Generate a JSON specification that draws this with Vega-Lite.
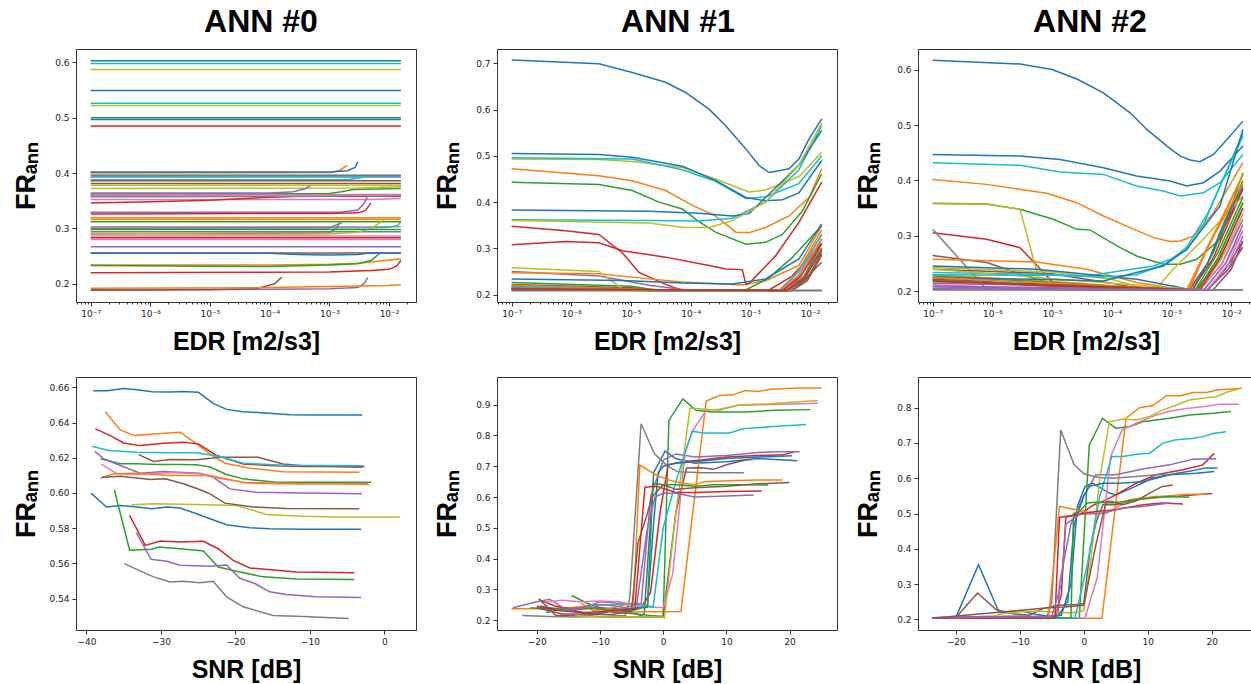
{
"$schema": "https://vega.github.io/schema/vega-lite/v6.json",
"padding": {"left": 11, "top": 5, "right": 0, "bottom": 0},
"config": {
 "view": {"stroke": "#333", "strokeWidth": 1},
 "axis": {"grid": false, "domain": false, "tickColor": "#333", "tickSize": 4, "labelFont": "DejaVu Sans", "labelFontSize": 9, "labelColor": "#222", "titleFont": "Liberation Sans", "titleFontWeight": "bold", "titleColor": "#000"},
 "axisX": {"titleFontSize": 25, "titlePadding": 11, "labelPadding": 3},
 "axisY": {"titleFontSize": 27, "titlePadding": 6, "labelPadding": 3, "minExtent": 30, "maxExtent": 30},
 "title": {"font": "Liberation Sans", "fontSize": 32, "fontWeight": "bold", "color": "#000", "anchor": "middle", "offset": 10},
 "line": {"strokeWidth": 1.5}
},
"datasets": {
"p1": [
{"s":0,"x":1e-7,"y":0.603},{"s":0,"x":0.0158,"y":0.603},
{"s":1,"x":1e-7,"y":0.400},{"s":1,"x":1.1e-3,"y":0.401},{"s":1,"x":1.5e-3,"y":0.405},{"s":1,"x":2e-3,"y":0.414},
{"s":2,"x":1e-7,"y":0.500},{"s":2,"x":0.0158,"y":0.500},
{"s":3,"x":1e-7,"y":0.485},{"s":3,"x":0.0158,"y":0.485},
{"s":4,"x":1e-7,"y":0.393},{"s":4,"x":0.0158,"y":0.393},
{"s":5,"x":1e-7,"y":0.381},{"s":5,"x":0.0158,"y":0.381},
{"s":6,"x":1e-7,"y":0.352},{"s":6,"x":5e-3,"y":0.352},{"s":6,"x":0.0158,"y":0.354},
{"s":7,"x":1e-7,"y":0.294},{"s":7,"x":0.0158,"y":0.294},
{"s":8,"x":1e-7,"y":0.587},{"s":8,"x":0.0158,"y":0.587},
{"s":9,"x":1e-7,"y":0.5976},{"s":9,"x":0.0158,"y":0.5976},
{"s":10,"x":1e-7,"y":0.549},{"s":10,"x":0.0158,"y":0.549},
{"s":11,"x":1e-7,"y":0.316},{"s":11,"x":0.0158,"y":0.316},
{"s":12,"x":1e-7,"y":0.362},{"s":12,"x":1e-3,"y":0.363},{"s":12,"x":1.6e-3,"y":0.366},{"s":12,"x":2.5e-3,"y":0.37},{"s":12,"x":0.0158,"y":0.372},
{"s":13,"x":1e-7,"y":0.346},{"s":13,"x":1e-6,"y":0.348},{"s":13,"x":1e-5,"y":0.351},{"s":13,"x":1e-4,"y":0.356},{"s":13,"x":3e-4,"y":0.358},{"s":13,"x":0.0158,"y":0.358},
{"s":14,"x":1e-7,"y":0.329},{"s":14,"x":1.5e-3,"y":0.329},{"s":14,"x":3e-3,"y":0.333},{"s":14,"x":3.8e-3,"y":0.345},{"s":14,"x":4.3e-3,"y":0.356},
{"s":15,"x":1e-7,"y":0.2555},{"s":15,"x":0.0158,"y":0.2555},
{"s":16,"x":1e-7,"y":0.280},{"s":16,"x":0.0158,"y":0.280},
{"s":17,"x":1e-7,"y":0.357},{"s":17,"x":1e-3,"y":0.358},{"s":17,"x":3e-3,"y":0.36},{"s":17,"x":5e-3,"y":0.358},{"s":17,"x":0.0158,"y":0.36},
{"s":18,"x":1e-7,"y":0.522},{"s":18,"x":0.0158,"y":0.522},
{"s":19,"x":1e-7,"y":0.526},{"s":19,"x":0.0158,"y":0.526},
{"s":20,"x":1e-7,"y":0.4965},{"s":20,"x":0.0158,"y":0.4965},
{"s":21,"x":1e-7,"y":0.234},{"s":21,"x":1e-4,"y":0.234},{"s":21,"x":1e-3,"y":0.235},{"s":21,"x":3e-3,"y":0.237},{"s":21,"x":6e-3,"y":0.240},{"s":21,"x":0.0158,"y":0.245},
{"s":22,"x":1e-7,"y":0.233},{"s":22,"x":1e-4,"y":0.231},{"s":22,"x":1e-3,"y":0.234},{"s":22,"x":3e-3,"y":0.236},{"s":22,"x":5e-3,"y":0.242},{"s":22,"x":7e-3,"y":0.255},
{"s":23,"x":1e-7,"y":0.220},{"s":23,"x":1e-3,"y":0.221},{"s":23,"x":5e-3,"y":0.224},{"s":23,"x":0.01,"y":0.226},{"s":23,"x":0.0135,"y":0.232},{"s":23,"x":0.0158,"y":0.242},
{"s":24,"x":1e-7,"y":0.189},{"s":24,"x":1e-4,"y":0.190},{"s":24,"x":1e-3,"y":0.191},{"s":24,"x":3e-3,"y":0.193},{"s":24,"x":3.8e-3,"y":0.200},{"s":24,"x":4.4e-3,"y":0.211},
{"s":25,"x":1e-7,"y":0.188},{"s":25,"x":1e-5,"y":0.189},{"s":25,"x":6e-5,"y":0.191},{"s":25,"x":1.2e-4,"y":0.200},{"s":25,"x":1.6e-4,"y":0.212},
{"s":26,"x":1e-7,"y":0.303},{"s":26,"x":0.0158,"y":0.303},
{"s":27,"x":1e-7,"y":0.290},{"s":27,"x":1e-3,"y":0.292},{"s":27,"x":1.3e-3,"y":0.300},{"s":27,"x":1.5e-3,"y":0.31},
{"s":28,"x":1e-7,"y":0.372},{"s":28,"x":3e-3,"y":0.373},{"s":28,"x":0.0158,"y":0.375},
{"s":29,"x":1e-7,"y":0.300},{"s":29,"x":5e-3,"y":0.301},{"s":29,"x":0.01,"y":0.302},{"s":29,"x":0.014,"y":0.305},{"s":29,"x":0.0158,"y":0.312},
{"s":30,"x":1e-7,"y":0.402},{"s":30,"x":1e-3,"y":0.402},{"s":30,"x":2e-3,"y":0.404},{"s":30,"x":2.7e-3,"y":0.41},{"s":30,"x":3e-3,"y":0.42},
{"s":31,"x":1e-7,"y":0.192},{"s":31,"x":1e-4,"y":0.193},{"s":31,"x":1e-3,"y":0.195},{"s":31,"x":0.01,"y":0.197},{"s":31,"x":0.0158,"y":0.198},
{"s":32,"x":1e-7,"y":0.312},{"s":32,"x":0.0158,"y":0.312},
{"s":33,"x":1e-7,"y":0.326},{"s":33,"x":1e-3,"y":0.327},{"s":33,"x":3e-3,"y":0.328},{"s":33,"x":4e-3,"y":0.332},{"s":33,"x":5e-3,"y":0.346},
{"s":34,"x":1e-7,"y":0.267},{"s":34,"x":0.0158,"y":0.267},
{"s":35,"x":1e-7,"y":0.396},{"s":35,"x":0.0158,"y":0.396},
{"s":36,"x":1e-7,"y":0.286},{"s":36,"x":0.0158,"y":0.286},
{"s":37,"x":1e-7,"y":0.360},{"s":37,"x":0.0158,"y":0.361},
{"s":38,"x":1e-7,"y":0.291},{"s":38,"x":1e-4,"y":0.289},{"s":38,"x":1e-3,"y":0.290},{"s":38,"x":3e-3,"y":0.293},{"s":38,"x":5e-3,"y":0.300},{"s":38,"x":7e-3,"y":0.31},{"s":38,"x":8e-3,"y":0.315},
{"s":39,"x":1e-7,"y":0.388},{"s":39,"x":2e-3,"y":0.388},{"s":39,"x":3e-3,"y":0.391},{"s":39,"x":3.5e-3,"y":0.392},
{"s":40,"x":1e-7,"y":0.255},{"s":40,"x":1e-4,"y":0.255},{"s":40,"x":3e-4,"y":0.253},{"s":40,"x":1e-3,"y":0.252},{"s":40,"x":3e-3,"y":0.253},{"s":40,"x":5e-3,"y":0.256},{"s":40,"x":0.0158,"y":0.255},
{"s":41,"x":1e-7,"y":0.319},{"s":41,"x":0.0158,"y":0.319},
{"s":42,"x":1e-7,"y":0.298},{"s":42,"x":0.0158,"y":0.298},
{"s":43,"x":1e-7,"y":0.283},{"s":43,"x":0.0158,"y":0.283},
{"s":44,"x":1e-7,"y":0.364},{"s":44,"x":1e-4,"y":0.364},{"s":44,"x":2.5e-4,"y":0.366},{"s":44,"x":4e-4,"y":0.372},{"s":44,"x":5e-4,"y":0.378},
{"s":45,"x":1e-7,"y":0.386},{"s":45,"x":0.0158,"y":0.386},
{"s":46,"x":1e-7,"y":0.3605},{"s":46,"x":0.0158,"y":0.3605},
{"s":47,"x":1e-7,"y":0.300},{"s":47,"x":1e-3,"y":0.301},{"s":47,"x":1.6e-3,"y":0.31},
{"s":48,"x":1e-7,"y":0.378},{"s":48,"x":0.0158,"y":0.378},
{"s":49,"x":1e-7,"y":0.394},{"s":49,"x":0.0158,"y":0.394}
],
"p2": [
{"s":0,"x":1e-7,"y":0.707},{"s":0,"x":2.9e-6,"y":0.699},{"s":0,"x":1.05e-5,"y":0.680},{"s":0,"x":3.8e-5,"y":0.659},{"s":0,"x":8.2e-5,"y":0.637},{"s":0,"x":2.03e-4,"y":0.601},{"s":0,"x":3.86e-4,"y":0.565},{"s":0,"x":8.4e-4,"y":0.515},{"s":0,"x":1.4e-3,"y":0.479},{"s":0,"x":2.06e-3,"y":0.464},{"s":0,"x":3e-3,"y":0.468},{"s":0,"x":4.45e-3,"y":0.472},{"s":0,"x":6.5e-3,"y":0.493},{"s":0,"x":9.6e-3,"y":0.536},{"s":0,"x":0.0157,"y":0.580},
{"s":1,"x":1e-7,"y":0.472},{"s":1,"x":2.9e-6,"y":0.457},{"s":1,"x":1.05e-5,"y":0.446},{"s":1,"x":3.8e-5,"y":0.425},{"s":1,"x":1.07e-4,"y":0.393},{"s":1,"x":2.6e-4,"y":0.370},{"s":1,"x":5.7e-4,"y":0.335},{"s":1,"x":9.5e-4,"y":0.334},{"s":1,"x":1.8e-3,"y":0.345},{"s":1,"x":4.45e-3,"y":0.37},{"s":1,"x":9.6e-3,"y":0.41},{"s":1,"x":0.0157,"y":0.472},
{"s":2,"x":1e-7,"y":0.443},{"s":2,"x":2.9e-6,"y":0.438},{"s":2,"x":1.05e-5,"y":0.425},{"s":2,"x":2.95e-5,"y":0.40},{"s":2,"x":7.25e-5,"y":0.385},{"s":2,"x":1.38e-4,"y":0.358},{"s":2,"x":2.6e-4,"y":0.335},{"s":2,"x":8.4e-4,"y":0.309},{"s":2,"x":1.8e-3,"y":0.313},{"s":2,"x":3.44e-3,"y":0.33},{"s":2,"x":7.4e-3,"y":0.38},{"s":2,"x":0.0157,"y":0.461},
{"s":3,"x":1e-7,"y":0.348},{"s":3,"x":8e-7,"y":0.338},{"s":3,"x":2.9e-6,"y":0.33},{"s":3,"x":7.2e-6,"y":0.29},{"s":3,"x":1.36e-5,"y":0.248},{"s":3,"x":3.8e-5,"y":0.222},{"s":3,"x":7.25e-5,"y":0.209},{"s":3,"x":2e-3,"y":0.209},{"s":3,"x":5e-3,"y":0.24},{"s":3,"x":0.0157,"y":0.31},
{"s":4,"x":1e-7,"y":0.250},{"s":4,"x":2.9e-6,"y":0.24},{"s":4,"x":2e-5,"y":0.22},{"s":4,"x":7.25e-5,"y":0.211},{"s":4,"x":1e-4,"y":0.209},{"s":4,"x":3e-3,"y":0.209},{"s":4,"x":6e-3,"y":0.23},{"s":4,"x":0.0157,"y":0.32},
{"s":5,"x":1e-7,"y":0.222},{"s":5,"x":1e-5,"y":0.215},{"s":5,"x":3e-5,"y":0.209},{"s":5,"x":4e-3,"y":0.209},{"s":5,"x":7e-3,"y":0.225},{"s":5,"x":0.0157,"y":0.27},
{"s":6,"x":1e-7,"y":0.213},{"s":6,"x":1e-5,"y":0.211},{"s":6,"x":2e-5,"y":0.209},{"s":6,"x":3e-3,"y":0.209},{"s":6,"x":6e-3,"y":0.235},{"s":6,"x":0.0157,"y":0.33},
{"s":7,"x":1e-7,"y":0.209},{"s":7,"x":0.0157,"y":0.209},
{"s":8,"x":1e-7,"y":0.493},{"s":8,"x":2.9e-6,"y":0.492},{"s":8,"x":1.05e-5,"y":0.488},{"s":8,"x":7.25e-5,"y":0.475},{"s":8,"x":2.6e-4,"y":0.45},{"s":8,"x":9.5e-4,"y":0.422},{"s":8,"x":1.8e-3,"y":0.426},{"s":8,"x":6.5e-3,"y":0.455},{"s":8,"x":0.0157,"y":0.508},
{"s":9,"x":1e-7,"y":0.496},{"s":9,"x":1.05e-5,"y":0.493},{"s":9,"x":7.25e-5,"y":0.47},{"s":9,"x":2.6e-4,"y":0.445},{"s":9,"x":8.4e-4,"y":0.408},{"s":9,"x":1.8e-3,"y":0.411},{"s":9,"x":6.5e-3,"y":0.44},{"s":9,"x":0.0157,"y":0.50},
{"s":10,"x":1e-7,"y":0.505},{"s":10,"x":2.9e-6,"y":0.503},{"s":10,"x":1.05e-5,"y":0.497},{"s":10,"x":7.25e-5,"y":0.4775},{"s":10,"x":2.6e-4,"y":0.447},{"s":10,"x":8.4e-4,"y":0.41},{"s":10,"x":1.8e-3,"y":0.403},{"s":10,"x":3.44e-3,"y":0.405},{"s":10,"x":6.5e-3,"y":0.42},{"s":10,"x":0.0157,"y":0.49},
{"s":11,"x":1e-7,"y":0.247},{"s":11,"x":2.9e-6,"y":0.245},{"s":11,"x":2e-5,"y":0.234},{"s":11,"x":7.25e-5,"y":0.227},{"s":11,"x":7.3e-4,"y":0.221},{"s":11,"x":1.8e-3,"y":0.23},{"s":11,"x":6.5e-3,"y":0.263},{"s":11,"x":0.0157,"y":0.349},
{"s":12,"x":1e-7,"y":0.226},{"s":12,"x":1e-5,"y":0.218},{"s":12,"x":3e-5,"y":0.209},{"s":12,"x":8e-4,"y":0.209},{"s":12,"x":2e-3,"y":0.235},{"s":12,"x":5e-3,"y":0.28},{"s":12,"x":0.0157,"y":0.349},
{"s":13,"x":1e-7,"y":0.308},{"s":13,"x":8e-7,"y":0.315},{"s":13,"x":2.9e-6,"y":0.312},{"s":13,"x":7.2e-6,"y":0.295},{"s":13,"x":3.8e-5,"y":0.281},{"s":13,"x":2.03e-4,"y":0.263},{"s":13,"x":3.86e-4,"y":0.2555},{"s":13,"x":7.3e-4,"y":0.254},{"s":13,"x":8.4e-4,"y":0.223},{"s":13,"x":9.5e-4,"y":0.224},{"s":13,"x":2.66e-3,"y":0.284},{"s":13,"x":6.5e-3,"y":0.356},{"s":13,"x":0.0157,"y":0.443},
{"s":14,"x":1e-7,"y":0.218},{"s":14,"x":1e-5,"y":0.212},{"s":14,"x":3e-5,"y":0.209},{"s":14,"x":3.5e-3,"y":0.209},{"s":14,"x":7e-3,"y":0.24},{"s":14,"x":0.0157,"y":0.32},
{"s":15,"x":1e-7,"y":0.216},{"s":15,"x":3e-5,"y":0.209},{"s":15,"x":5e-3,"y":0.209},{"s":15,"x":9e-3,"y":0.235},{"s":15,"x":0.0157,"y":0.29},
{"s":16,"x":1e-7,"y":0.21},{"s":16,"x":4e-3,"y":0.209},{"s":16,"x":8e-3,"y":0.24},{"s":16,"x":0.0157,"y":0.31},
{"s":17,"x":1e-7,"y":0.209},{"s":17,"x":0.0157,"y":0.209},
{"s":18,"x":1e-7,"y":0.258},{"s":18,"x":2.9e-6,"y":0.25},{"s":18,"x":7.2e-6,"y":0.212},{"s":18,"x":1e-5,"y":0.209},{"s":18,"x":6.5e-3,"y":0.209},
{"s":19,"x":1e-7,"y":0.362},{"s":19,"x":2e-5,"y":0.36},{"s":19,"x":1.38e-4,"y":0.359},{"s":19,"x":5e-4,"y":0.365},{"s":19,"x":1.8e-3,"y":0.40},{"s":19,"x":6.5e-3,"y":0.47},{"s":19,"x":0.0157,"y":0.565},
{"s":20,"x":1e-7,"y":0.383},{"s":20,"x":2e-5,"y":0.38},{"s":20,"x":1.38e-4,"y":0.376},{"s":20,"x":5e-4,"y":0.37},{"s":20,"x":9.5e-4,"y":0.375},{"s":20,"x":1.8e-3,"y":0.41},{"s":20,"x":6.5e-3,"y":0.48},{"s":20,"x":0.0157,"y":0.555},
{"s":21,"x":1e-7,"y":0.22},{"s":21,"x":1e-5,"y":0.212},{"s":21,"x":3e-5,"y":0.209},{"s":21,"x":3e-3,"y":0.209},{"s":21,"x":6e-3,"y":0.245},{"s":21,"x":0.0157,"y":0.34},
{"s":22,"x":1e-7,"y":0.215},{"s":22,"x":3e-5,"y":0.209},{"s":22,"x":4e-3,"y":0.209},{"s":22,"x":8e-3,"y":0.24},{"s":22,"x":0.0157,"y":0.31},
{"s":23,"x":1e-7,"y":0.214},{"s":23,"x":3e-5,"y":0.209},{"s":23,"x":3.5e-3,"y":0.209},{"s":23,"x":7e-3,"y":0.24},{"s":23,"x":0.0157,"y":0.31},
{"s":24,"x":1e-7,"y":0.212},{"s":24,"x":3e-5,"y":0.209},{"s":24,"x":4.5e-3,"y":0.209},{"s":24,"x":8e-3,"y":0.235},{"s":24,"x":0.0157,"y":0.30},
{"s":25,"x":1e-7,"y":0.211},{"s":25,"x":5e-3,"y":0.209},{"s":25,"x":9e-3,"y":0.23},{"s":25,"x":0.0157,"y":0.285},
{"s":26,"x":1e-7,"y":0.211},{"s":26,"x":4e-3,"y":0.209},{"s":26,"x":8e-3,"y":0.235},{"s":26,"x":0.0157,"y":0.30},
{"s":27,"x":1e-7,"y":0.209},{"s":27,"x":0.0157,"y":0.209},
{"s":28,"x":1e-7,"y":0.360},{"s":28,"x":2e-5,"y":0.355},{"s":28,"x":7.25e-5,"y":0.3455},{"s":28,"x":2.03e-4,"y":0.345},{"s":28,"x":5e-4,"y":0.36},{"s":28,"x":1.8e-3,"y":0.40},{"s":28,"x":6.5e-3,"y":0.48},{"s":28,"x":0.0157,"y":0.57},
{"s":29,"x":1e-7,"y":0.217},{"s":29,"x":3e-5,"y":0.209},{"s":29,"x":3e-3,"y":0.209},{"s":29,"x":6.5e-3,"y":0.25},{"s":29,"x":0.0157,"y":0.33},
{"s":30,"x":1e-7,"y":0.2338},{"s":30,"x":7.2e-6,"y":0.2303},{"s":30,"x":7.25e-5,"y":0.2253},{"s":30,"x":5e-4,"y":0.2231},{"s":30,"x":1.8e-3,"y":0.2338},{"s":30,"x":6.5e-3,"y":0.277},{"s":30,"x":0.0157,"y":0.353},
{"s":31,"x":1e-7,"y":0.213},{"s":31,"x":3e-5,"y":0.209},{"s":31,"x":3e-3,"y":0.209},{"s":31,"x":7e-3,"y":0.245},{"s":31,"x":0.0157,"y":0.32},
{"s":32,"x":1e-7,"y":0.212},{"s":32,"x":4e-3,"y":0.209},{"s":32,"x":8e-3,"y":0.235},{"s":32,"x":0.0157,"y":0.30},
{"s":33,"x":1e-7,"y":0.212},{"s":33,"x":4e-3,"y":0.209},{"s":33,"x":8e-3,"y":0.235},{"s":33,"x":0.0157,"y":0.295}
],
"p3": [
{"s":0,"x":1e-7,"y":0.6168},{"s":0,"x":2.9e-6,"y":0.610},{"s":0,"x":1e-5,"y":0.600},{"s":0,"x":2.6e-5,"y":0.583},{"s":0,"x":7.25e-5,"y":0.558},{"s":0,"x":2.03e-4,"y":0.522},{"s":0,"x":3.86e-4,"y":0.492},{"s":0,"x":8.4e-4,"y":0.462},{"s":0,"x":1.4e-3,"y":0.444},{"s":0,"x":2.06e-3,"y":0.437},{"s":0,"x":3e-3,"y":0.434},{"s":0,"x":5.06e-3,"y":0.447},{"s":0,"x":8.5e-3,"y":0.474},{"s":0,"x":0.0157,"y":0.507},
{"s":1,"x":1e-7,"y":0.402},{"s":1,"x":8e-7,"y":0.393},{"s":1,"x":8.1e-6,"y":0.377},{"s":1,"x":2.6e-5,"y":0.36},{"s":1,"x":7.25e-5,"y":0.336},{"s":1,"x":2.03e-4,"y":0.315},{"s":1,"x":5e-4,"y":0.297},{"s":1,"x":9.5e-4,"y":0.29},{"s":1,"x":1.4e-3,"y":0.291},{"s":1,"x":2.34e-3,"y":0.30},{"s":1,"x":5.06e-3,"y":0.342},{"s":1,"x":0.0157,"y":0.432},
{"s":2,"x":1e-7,"y":0.359},{"s":2,"x":8e-7,"y":0.3577},{"s":2,"x":2.9e-6,"y":0.348},{"s":2,"x":1.05e-5,"y":0.33},{"s":2,"x":2.6e-5,"y":0.312},{"s":2,"x":4.3e-5,"y":0.311},{"s":2,"x":1.38e-4,"y":0.279},{"s":2,"x":2.6e-4,"y":0.264},{"s":2,"x":7.3e-4,"y":0.249},{"s":2,"x":1.4e-3,"y":0.249},{"s":2,"x":2.66e-3,"y":0.258},{"s":2,"x":6.5e-3,"y":0.294},{"s":2,"x":0.0157,"y":0.414},
{"s":3,"x":1e-7,"y":0.306},{"s":3,"x":8e-7,"y":0.294},{"s":3,"x":2.9e-6,"y":0.279},{"s":3,"x":1.36e-5,"y":0.203},{"s":3,"x":2e-3,"y":0.203},{"s":3,"x":4e-3,"y":0.25},{"s":3,"x":8e-3,"y":0.32},{"s":3,"x":0.0157,"y":0.385},
{"s":4,"x":1e-7,"y":0.215},{"s":4,"x":1e-5,"y":0.21},{"s":4,"x":3e-5,"y":0.203},{"s":4,"x":3e-3,"y":0.203},{"s":4,"x":7e-3,"y":0.25},{"s":4,"x":0.0157,"y":0.33},
{"s":5,"x":1e-7,"y":0.265},{"s":5,"x":8e-7,"y":0.252},{"s":5,"x":5.5e-6,"y":0.222},{"s":5,"x":2e-5,"y":0.204},{"s":5,"x":4e-3,"y":0.203},{"s":5,"x":8e-3,"y":0.24},{"s":5,"x":0.0157,"y":0.29},
{"s":6,"x":1e-7,"y":0.212},{"s":6,"x":3e-5,"y":0.203},{"s":6,"x":3.5e-3,"y":0.203},{"s":6,"x":8e-3,"y":0.25},{"s":6,"x":0.0157,"y":0.31},
{"s":7,"x":1e-7,"y":0.312},{"s":7,"x":8e-7,"y":0.204},{"s":7,"x":0.0157,"y":0.203},
{"s":8,"x":1e-7,"y":0.358},{"s":8,"x":8e-7,"y":0.357},{"s":8,"x":2.9e-6,"y":0.348},{"s":8,"x":6.7e-6,"y":0.203},{"s":8,"x":0.0157,"y":0.203},
{"s":9,"x":1e-7,"y":0.432},{"s":9,"x":2.9e-6,"y":0.4273},{"s":9,"x":1.36e-5,"y":0.4153},{"s":9,"x":7.25e-5,"y":0.411},{"s":9,"x":2.6e-4,"y":0.39},{"s":9,"x":7.3e-4,"y":0.381},{"s":9,"x":1.4e-3,"y":0.372},{"s":9,"x":3.44e-3,"y":0.378},{"s":9,"x":6.5e-3,"y":0.396},{"s":9,"x":0.0157,"y":0.447},
{"s":10,"x":1e-7,"y":0.447},{"s":10,"x":2.9e-6,"y":0.444},{"s":10,"x":1.36e-5,"y":0.438},{"s":10,"x":7.25e-5,"y":0.423},{"s":10,"x":2.6e-4,"y":0.408},{"s":10,"x":9.5e-4,"y":0.399},{"s":10,"x":1.8e-3,"y":0.390},{"s":10,"x":3.44e-3,"y":0.396},{"s":10,"x":6.5e-3,"y":0.417},{"s":10,"x":0.0157,"y":0.462},
{"s":11,"x":1e-7,"y":0.258},{"s":11,"x":5.5e-6,"y":0.253},{"s":11,"x":3.8e-5,"y":0.240},{"s":11,"x":2.6e-4,"y":0.216},{"s":11,"x":1.4e-3,"y":0.204},{"s":11,"x":1.9e-3,"y":0.203},{"s":11,"x":3e-3,"y":0.25},{"s":11,"x":7e-3,"y":0.33},{"s":11,"x":0.0157,"y":0.41},
{"s":12,"x":1e-7,"y":0.22},{"s":12,"x":2e-5,"y":0.21},{"s":12,"x":5e-5,"y":0.203},{"s":12,"x":2.3e-3,"y":0.203},{"s":12,"x":5e-3,"y":0.27},{"s":12,"x":0.0157,"y":0.40},
{"s":13,"x":1e-7,"y":0.225},{"s":13,"x":3e-5,"y":0.205},{"s":13,"x":2.2e-3,"y":0.203},{"s":13,"x":5e-3,"y":0.26},{"s":13,"x":0.0157,"y":0.385},
{"s":14,"x":1e-7,"y":0.208},{"s":14,"x":2.5e-3,"y":0.203},{"s":14,"x":6e-3,"y":0.25},{"s":14,"x":0.0157,"y":0.35},
{"s":15,"x":1e-7,"y":0.24},{"s":15,"x":1e-5,"y":0.232},{"s":15,"x":1e-4,"y":0.215},{"s":15,"x":3e-4,"y":0.205},{"s":15,"x":4e-3,"y":0.203},{"s":15,"x":9e-3,"y":0.24},{"s":15,"x":0.0157,"y":0.28},
{"s":16,"x":1e-7,"y":0.218},{"s":16,"x":3e-3,"y":0.203},{"s":16,"x":7e-3,"y":0.25},{"s":16,"x":0.0157,"y":0.34},
{"s":17,"x":1e-7,"y":0.203},{"s":17,"x":0.0157,"y":0.203},
{"s":18,"x":1e-7,"y":0.243},{"s":18,"x":1e-5,"y":0.235},{"s":18,"x":1e-4,"y":0.222},{"s":18,"x":3.5e-4,"y":0.205},{"s":18,"x":5.5e-4,"y":0.204},{"s":18,"x":9.5e-4,"y":0.234},{"s":18,"x":3.4e-3,"y":0.294},{"s":18,"x":0.0157,"y":0.372},
{"s":19,"x":1e-7,"y":0.234},{"s":19,"x":5.5e-6,"y":0.231},{"s":19,"x":3.8e-5,"y":0.228},{"s":19,"x":1.38e-4,"y":0.237},{"s":19,"x":5e-4,"y":0.246},{"s":19,"x":9.5e-4,"y":0.258},{"s":19,"x":1.8e-3,"y":0.275},{"s":19,"x":3.44e-3,"y":0.32},{"s":19,"x":6.5e-3,"y":0.39},{"s":19,"x":0.0157,"y":0.485},
{"s":20,"x":1e-7,"y":0.246},{"s":20,"x":5.5e-6,"y":0.24},{"s":20,"x":3.8e-5,"y":0.231},{"s":20,"x":2.6e-4,"y":0.222},{"s":20,"x":1.4e-3,"y":0.207},{"s":20,"x":2e-3,"y":0.203},{"s":20,"x":4e-3,"y":0.25},{"s":20,"x":8e-3,"y":0.33},{"s":20,"x":0.0157,"y":0.39},
{"s":21,"x":1e-7,"y":0.23},{"s":21,"x":3e-5,"y":0.215},{"s":21,"x":5e-4,"y":0.204},{"s":21,"x":1.8e-3,"y":0.203},{"s":21,"x":4e-3,"y":0.28},{"s":21,"x":0.0157,"y":0.41},
{"s":22,"x":1e-7,"y":0.228},{"s":22,"x":1e-4,"y":0.21},{"s":22,"x":2.5e-3,"y":0.203},{"s":22,"x":6e-3,"y":0.27},{"s":22,"x":0.0157,"y":0.37},
{"s":23,"x":1e-7,"y":0.222},{"s":23,"x":1e-4,"y":0.205},{"s":23,"x":2.8e-3,"y":0.203},{"s":23,"x":6e-3,"y":0.26},{"s":23,"x":0.0157,"y":0.36},
{"s":24,"x":1e-7,"y":0.21},{"s":24,"x":3.5e-3,"y":0.203},{"s":24,"x":8e-3,"y":0.25},{"s":24,"x":0.0157,"y":0.32},
{"s":25,"x":1e-7,"y":0.22},{"s":25,"x":3e-4,"y":0.204},{"s":25,"x":5e-3,"y":0.203},{"s":25,"x":1e-2,"y":0.24},{"s":25,"x":0.0157,"y":0.29},
{"s":26,"x":1e-7,"y":0.225},{"s":26,"x":3e-4,"y":0.206},{"s":26,"x":4e-3,"y":0.203},{"s":26,"x":9e-3,"y":0.25},{"s":26,"x":0.0157,"y":0.31},
{"s":27,"x":1e-7,"y":0.203},{"s":27,"x":0.0157,"y":0.203},
{"s":28,"x":1e-7,"y":0.24},{"s":28,"x":1e-4,"y":0.215},{"s":28,"x":3e-3,"y":0.203},{"s":28,"x":7e-3,"y":0.26},{"s":28,"x":0.0157,"y":0.34},
{"s":29,"x":1e-7,"y":0.23},{"s":29,"x":1e-5,"y":0.229},{"s":29,"x":7.25e-5,"y":0.226},{"s":29,"x":2.6e-4,"y":0.23},{"s":29,"x":8e-4,"y":0.25},{"s":29,"x":1.8e-3,"y":0.28},{"s":29,"x":4e-3,"y":0.34},{"s":29,"x":0.0157,"y":0.48},
{"s":30,"x":1e-7,"y":0.225},{"s":30,"x":5.5e-6,"y":0.222},{"s":30,"x":7.25e-5,"y":0.219},{"s":30,"x":2.6e-4,"y":0.234},{"s":30,"x":7.3e-4,"y":0.246},{"s":30,"x":1.8e-3,"y":0.276},{"s":30,"x":6.5e-3,"y":0.354},{"s":30,"x":0.0157,"y":0.492},
{"s":31,"x":1e-7,"y":0.225},{"s":31,"x":2e-3,"y":0.203},{"s":31,"x":4e-3,"y":0.28},{"s":31,"x":0.0157,"y":0.395},
{"s":32,"x":1e-7,"y":0.22},{"s":32,"x":2.7e-3,"y":0.203},{"s":32,"x":6e-3,"y":0.26},{"s":32,"x":0.0157,"y":0.36},
{"s":33,"x":1e-7,"y":0.218},{"s":33,"x":3e-3,"y":0.203},{"s":33,"x":6.5e-3,"y":0.26},{"s":33,"x":0.0157,"y":0.35},
{"s":34,"x":1e-7,"y":0.205},{"s":34,"x":4e-3,"y":0.203},{"s":34,"x":9e-3,"y":0.24},{"s":34,"x":0.0157,"y":0.30}
],
"p4": [
{"s":0,"x":-39.1,"y":0.6581},{"s":0,"x":-37.24,"y":0.6581},{"s":0,"x":-35.0,"y":0.6594},{"s":0,"x":-33.2,"y":0.6587},{"s":0,"x":-31.2,"y":0.6575},{"s":0,"x":-28.76,"y":0.6574},{"s":0,"x":-26.98,"y":0.6577},{"s":0,"x":-24.97,"y":0.6572},{"s":0,"x":-22.97,"y":0.6509},{"s":0,"x":-21.18,"y":0.6475},{"s":0,"x":-18.95,"y":0.6462},{"s":0,"x":-15.39,"y":0.6453},{"s":0,"x":-12.71,"y":0.6445},{"s":0,"x":-10.04,"y":0.6443},{"s":0,"x":-6.47,"y":0.6443},{"s":0,"x":-2.99,"y":0.6443},
{"s":1,"x":-37.46,"y":0.6462},{"s":1,"x":-35.45,"y":0.6358},{"s":1,"x":-33.53,"y":0.6326},{"s":1,"x":-30.99,"y":0.6335},{"s":1,"x":-27.43,"y":0.6345},{"s":1,"x":-25.2,"y":0.6279},{"s":1,"x":-23.41,"y":0.6222},{"s":1,"x":-21.41,"y":0.6169},{"s":1,"x":-18.06,"y":0.6141},{"s":1,"x":-13.6,"y":0.612},{"s":1,"x":-3.35,"y":0.6118},
{"s":2,"x":-38.13,"y":0.6194},{"s":2,"x":-35.45,"y":0.6166},{"s":2,"x":-33.22,"y":0.6166},{"s":2,"x":-30.55,"y":0.6162},{"s":2,"x":-27.43,"y":0.6162},{"s":2,"x":-25.2,"y":0.616},{"s":2,"x":-23.41,"y":0.6147},{"s":2,"x":-21.18,"y":0.6105},{"s":2,"x":-18.95,"y":0.608},{"s":2,"x":-14.49,"y":0.6061},{"s":2,"x":-7.36,"y":0.6061},{"s":2,"x":-1.79,"y":0.6061},
{"s":3,"x":-38.8,"y":0.6364},{"s":3,"x":-36.79,"y":0.6326},{"s":3,"x":-35.01,"y":0.6284},{"s":3,"x":-32.78,"y":0.6269},{"s":3,"x":-29.66,"y":0.6282},{"s":3,"x":-26.98,"y":0.6288},{"s":3,"x":-24.97,"y":0.6279},{"s":3,"x":-22.52,"y":0.6213},{"s":3,"x":-18.95,"y":0.6165},{"s":3,"x":-15.39,"y":0.6156},{"s":3,"x":-10.93,"y":0.615},{"s":3,"x":-2.68,"y":0.615},
{"s":4,"x":-38.89,"y":0.6237},{"s":4,"x":-37.68,"y":0.6194},{"s":4,"x":-35.45,"y":0.6156},{"s":4,"x":-32.78,"y":0.6112},{"s":4,"x":-29.66,"y":0.6122},{"s":4,"x":-26.98,"y":0.6116},{"s":4,"x":-24.75,"y":0.6112},{"s":4,"x":-22.97,"y":0.6089},{"s":4,"x":-20.74,"y":0.6023},{"s":4,"x":-17.17,"y":0.6004},{"s":4,"x":-10.93,"y":0.5999},{"s":4,"x":-2.99,"y":0.5995},
{"s":5,"x":-33.0,"y":0.6218},{"s":5,"x":-30.99,"y":0.6179},{"s":5,"x":-28.76,"y":0.619},{"s":5,"x":-25.2,"y":0.6188},{"s":5,"x":-22.07,"y":0.6203},{"s":5,"x":-18.95,"y":0.6203},{"s":5,"x":-16.95,"y":0.6203},{"s":5,"x":-13.6,"y":0.6165},{"s":5,"x":-10.93,"y":0.6154},{"s":5,"x":-2.99,"y":0.6146},
{"s":6,"x":-38.04,"y":0.6165},{"s":6,"x":-35.9,"y":0.6109},{"s":6,"x":-33.22,"y":0.6105},{"s":6,"x":-28.76,"y":0.6116},{"s":6,"x":-24.75,"y":0.6109},{"s":6,"x":-22.97,"y":0.6089},{"s":6,"x":-18.95,"y":0.6061},{"s":6,"x":-10.93,"y":0.6052},{"s":6,"x":-2.23,"y":0.6052},
{"s":7,"x":-34.92,"y":0.5598},{"s":7,"x":-32.78,"y":0.5557},{"s":7,"x":-30.99,"y":0.5523},{"s":7,"x":-28.76,"y":0.5494},{"s":7,"x":-26.98,"y":0.5498},{"s":7,"x":-24.75,"y":0.5489},{"s":7,"x":-22.97,"y":0.5498},{"s":7,"x":-21.18,"y":0.5409},{"s":7,"x":-18.95,"y":0.5353},{"s":7,"x":-14.94,"y":0.5303},{"s":7,"x":-10.93,"y":0.5298},{"s":7,"x":-4.77,"y":0.5286},
{"s":8,"x":-33.98,"y":0.5933},{"s":8,"x":-30.99,"y":0.5939},{"s":8,"x":-25.2,"y":0.5935},{"s":8,"x":-19.84,"y":0.5929},{"s":8,"x":-15.83,"y":0.5878},{"s":8,"x":-10.93,"y":0.5867},{"s":8,"x":-6.47,"y":0.5863},{"s":8,"x":2.14,"y":0.5863},
{"s":9,"x":-39.24,"y":0.6265},{"s":9,"x":-37.01,"y":0.6241},{"s":9,"x":-33.22,"y":0.6231},{"s":9,"x":-28.76,"y":0.6228},{"s":9,"x":-25.2,"y":0.6228},{"s":9,"x":-22.07,"y":0.6207},{"s":9,"x":-18.95,"y":0.6169},{"s":9,"x":-13.6,"y":0.6158},{"s":9,"x":-2.9,"y":0.6154},
{"s":10,"x":-39.38,"y":0.5999},{"s":10,"x":-37.32,"y":0.592},{"s":10,"x":-35.45,"y":0.5929},{"s":10,"x":-33.22,"y":0.592},{"s":10,"x":-31.2,"y":0.591},{"s":10,"x":-29.21,"y":0.592},{"s":10,"x":-27.43,"y":0.5914},{"s":10,"x":-25.2,"y":0.5882},{"s":10,"x":-23.41,"y":0.5853},{"s":10,"x":-21.18,"y":0.5819},{"s":10,"x":-18.06,"y":0.5802},{"s":10,"x":-15.39,"y":0.5797},{"s":10,"x":-10.93,"y":0.5793},{"s":10,"x":-3.13,"y":0.5793},
{"s":11,"x":-38.13,"y":0.6084},{"s":11,"x":-36.34,"y":0.6109},{"s":11,"x":-33.22,"y":0.6112},{"s":11,"x":-28.76,"y":0.6099},{"s":11,"x":-23.41,"y":0.6099},{"s":11,"x":-21.18,"y":0.608},{"s":11,"x":-18.5,"y":0.6056},{"s":11,"x":-14.49,"y":0.6052},{"s":11,"x":-6.47,"y":0.6052},{"s":11,"x":-2.01,"y":0.6048},
{"s":12,"x":-36.25,"y":0.6018},{"s":12,"x":-34.2,"y":0.5674},{"s":12,"x":-31.2,"y":0.568},{"s":12,"x":-30.32,"y":0.5693},{"s":12,"x":-27.43,"y":0.5683},{"s":12,"x":-24.3,"y":0.567},{"s":12,"x":-22.3,"y":0.5579},{"s":12,"x":-19.84,"y":0.5555},{"s":12,"x":-16.28,"y":0.5523},{"s":12,"x":-11.82,"y":0.5511},{"s":12,"x":-4.02,"y":0.5508},
{"s":13,"x":-34.2,"y":0.5872},{"s":13,"x":-32.1,"y":0.5702},{"s":13,"x":-30.1,"y":0.5727},{"s":13,"x":-27.43,"y":0.5721},{"s":13,"x":-24.3,"y":0.5725},{"s":13,"x":-22.3,"y":0.5683},{"s":13,"x":-20.29,"y":0.5617},{"s":13,"x":-18.06,"y":0.5574},{"s":13,"x":-11.82,"y":0.5551},{"s":13,"x":-4.02,"y":0.5547},
{"s":14,"x":-33.31,"y":0.5774},{"s":14,"x":-31.31,"y":0.5623},{"s":14,"x":-29.21,"y":0.5612},{"s":14,"x":-27.43,"y":0.5589},{"s":14,"x":-23.41,"y":0.5583},{"s":14,"x":-21.18,"y":0.5591},{"s":14,"x":-19.4,"y":0.5515},{"s":14,"x":-17.39,"y":0.5485},{"s":14,"x":-15.39,"y":0.5438},{"s":14,"x":-13.16,"y":0.5423},{"s":14,"x":-9.14,"y":0.541},{"s":14,"x":-3.13,"y":0.5406},
{"s":15,"x":-37.9,"y":0.6089},{"s":15,"x":-35.45,"y":0.6095},{"s":15,"x":-31.44,"y":0.6076},{"s":15,"x":-29.43,"y":0.608},{"s":15,"x":-26.98,"y":0.6052},{"s":15,"x":-24.75,"y":0.6018},{"s":15,"x":-23.41,"y":0.5995},{"s":15,"x":-21.41,"y":0.5942},{"s":15,"x":-17.62,"y":0.592},{"s":15,"x":-13.16,"y":0.5912},{"s":15,"x":-3.35,"y":0.591}
],
"p5": [
{"s":0,"x":-18.5,"y":0.225},{"s":0,"x":-15,"y":0.24},{"s":0,"x":-12,"y":0.215},{"s":0,"x":-8,"y":0.23},{"s":0,"x":-5,"y":0.225},{"s":0,"x":-3.5,"y":0.215},{"s":0,"x":-3,"y":0.22},{"s":0,"x":-1.5,"y":0.68},{"s":0,"x":0.3,"y":0.749},{"s":0,"x":2,"y":0.725},{"s":0,"x":5,"y":0.71},{"s":0,"x":10,"y":0.715},{"s":0,"x":15,"y":0.725},{"s":0,"x":21.2,"y":0.718},
{"s":1,"x":-24,"y":0.237},{"s":1,"x":-20,"y":0.237},{"s":1,"x":-15,"y":0.24},{"s":1,"x":-12,"y":0.245},{"s":1,"x":-9,"y":0.23},{"s":1,"x":-5,"y":0.225},{"s":1,"x":-3.5,"y":0.228},{"s":1,"x":0,"y":0.227},{"s":1,"x":2.8,"y":0.228},{"s":1,"x":6.8,"y":0.912},{"s":1,"x":8.9,"y":0.930},{"s":1,"x":11,"y":0.932},{"s":1,"x":13,"y":0.946},{"s":1,"x":15,"y":0.943},{"s":1,"x":17,"y":0.95},{"s":1,"x":21.7,"y":0.954},{"s":1,"x":25,"y":0.954},
{"s":2,"x":-14.5,"y":0.28},{"s":2,"x":-12,"y":0.255},{"s":2,"x":-10,"y":0.24},{"s":2,"x":-8,"y":0.225},{"s":2,"x":-5,"y":0.222},{"s":2,"x":-2,"y":0.215},{"s":2,"x":0,"y":0.212},{"s":2,"x":0.9,"y":0.849},{"s":2,"x":3.1,"y":0.919},{"s":2,"x":5.2,"y":0.882},{"s":2,"x":7.8,"y":0.876},{"s":2,"x":13,"y":0.876},{"s":2,"x":17.7,"y":0.882},{"s":2,"x":23.3,"y":0.884},
{"s":3,"x":-19.5,"y":0.265},{"s":3,"x":-17,"y":0.245},{"s":3,"x":-14,"y":0.235},{"s":3,"x":-10,"y":0.24},{"s":3,"x":-6,"y":0.235},{"s":3,"x":-3.5,"y":0.24},{"s":3,"x":-2,"y":0.29},{"s":3,"x":-0.5,"y":0.55},{"s":3,"x":0.8,"y":0.705},{"s":3,"x":3,"y":0.715},{"s":3,"x":6,"y":0.72},{"s":3,"x":10,"y":0.73},{"s":3,"x":15,"y":0.735},{"s":3,"x":19,"y":0.737},{"s":3,"x":20.7,"y":0.747},
{"s":4,"x":-23.8,"y":0.24},{"s":4,"x":-20,"y":0.26},{"s":4,"x":-18,"y":0.268},{"s":4,"x":-15,"y":0.23},{"s":4,"x":-12,"y":0.245},{"s":4,"x":-10,"y":0.26},{"s":4,"x":-7,"y":0.255},{"s":4,"x":-5,"y":0.25},{"s":4,"x":-3.5,"y":0.25},{"s":4,"x":-2,"y":0.60},{"s":4,"x":0,"y":0.72},{"s":4,"x":2,"y":0.74},{"s":4,"x":5,"y":0.73},{"s":4,"x":10,"y":0.735},{"s":4,"x":15,"y":0.745},{"s":4,"x":18,"y":0.747},{"s":4,"x":21.6,"y":0.747},
{"s":5,"x":-19.7,"y":0.27},{"s":5,"x":-17,"y":0.215},{"s":5,"x":-13,"y":0.215},{"s":5,"x":-9,"y":0.21},{"s":5,"x":-5,"y":0.21},{"s":5,"x":0,"y":0.21},{"s":5,"x":2,"y":0.55},{"s":5,"x":3.7,"y":0.694},{"s":5,"x":6,"y":0.695},{"s":5,"x":8,"y":0.69},{"s":5,"x":10,"y":0.705},{"s":5,"x":13,"y":0.72},{"s":5,"x":14,"y":0.722},
{"s":6,"x":-18.5,"y":0.26},{"s":6,"x":-16,"y":0.265},{"s":6,"x":-13,"y":0.26},{"s":6,"x":-10,"y":0.262},{"s":6,"x":-7,"y":0.26},{"s":6,"x":-4,"y":0.245},{"s":6,"x":0,"y":0.24},{"s":6,"x":1.5,"y":0.35},{"s":6,"x":3.5,"y":0.75},{"s":6,"x":4.7,"y":0.817},{"s":6,"x":6.8,"y":0.882},{"s":6,"x":8.9,"y":0.885},{"s":6,"x":12,"y":0.898},{"s":6,"x":16,"y":0.9},{"s":6,"x":24.5,"y":0.905},
{"s":7,"x":-22.3,"y":0.215},{"s":7,"x":-18,"y":0.212},{"s":7,"x":-14,"y":0.21},{"s":7,"x":-10,"y":0.212},{"s":7,"x":-6,"y":0.215},{"s":7,"x":-5.3,"y":0.27},{"s":7,"x":-3.5,"y":0.838},{"s":7,"x":-1.4,"y":0.741},{"s":7,"x":0.5,"y":0.704},{"s":7,"x":2.3,"y":0.682},{"s":7,"x":6.3,"y":0.679},{"s":7,"x":12.8,"y":0.679},
{"s":8,"x":-14,"y":0.215},{"s":8,"x":-10,"y":0.21},{"s":8,"x":-6,"y":0.21},{"s":8,"x":0,"y":0.21},{"s":8,"x":0.2,"y":0.207},{"s":8,"x":2,"y":0.55},{"s":8,"x":4.25,"y":0.889},{"s":8,"x":8.9,"y":0.882},{"s":8,"x":12,"y":0.90},{"s":8,"x":16.8,"y":0.903},{"s":8,"x":24.5,"y":0.914},
{"s":9,"x":-12,"y":0.25},{"s":9,"x":-8,"y":0.25},{"s":9,"x":-4,"y":0.255},{"s":9,"x":-1.6,"y":0.242},{"s":9,"x":0,"y":0.5},{"s":9,"x":2,"y":0.65},{"s":9,"x":4.57,"y":0.814},{"s":9,"x":6.3,"y":0.808},{"s":9,"x":10.5,"y":0.808},{"s":9,"x":12.6,"y":0.822},{"s":9,"x":16.8,"y":0.828},{"s":9,"x":22.6,"y":0.836},
{"s":10,"x":-19.5,"y":0.245},{"s":10,"x":-15,"y":0.23},{"s":10,"x":-11,"y":0.22},{"s":10,"x":-7,"y":0.235},{"s":10,"x":-4,"y":0.24},{"s":10,"x":-2.5,"y":0.242},{"s":10,"x":-1.5,"y":0.52},{"s":10,"x":-0.8,"y":0.68},{"s":10,"x":0,"y":0.7},{"s":10,"x":2,"y":0.71},{"s":10,"x":5,"y":0.715},{"s":10,"x":10,"y":0.725},{"s":10,"x":15,"y":0.73},{"s":10,"x":20.4,"y":0.734},
{"s":11,"x":-13,"y":0.255},{"s":11,"x":-11,"y":0.23},{"s":11,"x":-8,"y":0.24},{"s":11,"x":-5,"y":0.255},{"s":11,"x":-4.7,"y":0.26},{"s":11,"x":-3.7,"y":0.704},{"s":11,"x":-1,"y":0.67},{"s":11,"x":1,"y":0.655},{"s":11,"x":3,"y":0.645},{"s":11,"x":5,"y":0.64},{"s":11,"x":6.5,"y":0.65},{"s":11,"x":10,"y":0.653},{"s":11,"x":15,"y":0.655},{"s":11,"x":18.9,"y":0.655},
{"s":12,"x":-21,"y":0.24},{"s":12,"x":-17,"y":0.235},{"s":12,"x":-13,"y":0.24},{"s":12,"x":-9,"y":0.235},{"s":12,"x":-5,"y":0.23},{"s":12,"x":-2.5,"y":0.245},{"s":12,"x":-1.6,"y":0.645},{"s":12,"x":0,"y":0.64},{"s":12,"x":2,"y":0.64},{"s":12,"x":5,"y":0.635},{"s":12,"x":8,"y":0.64},{"s":12,"x":12,"y":0.64},{"s":12,"x":16.6,"y":0.639},
{"s":13,"x":-20,"y":0.245},{"s":13,"x":-16,"y":0.23},{"s":13,"x":-12,"y":0.225},{"s":13,"x":-8,"y":0.23},{"s":13,"x":-4.5,"y":0.235},{"s":13,"x":-2.9,"y":0.632},{"s":13,"x":-1,"y":0.635},{"s":13,"x":0.5,"y":0.625},{"s":13,"x":2,"y":0.615},{"s":13,"x":5,"y":0.615},{"s":13,"x":10,"y":0.618},{"s":13,"x":15.6,"y":0.62},
{"s":14,"x":-16,"y":0.23},{"s":14,"x":-12,"y":0.245},{"s":14,"x":-9,"y":0.25},{"s":14,"x":-6,"y":0.24},{"s":14,"x":-4.2,"y":0.25},{"s":14,"x":-2.5,"y":0.5},{"s":14,"x":-1.3,"y":0.6},{"s":14,"x":0,"y":0.612},{"s":14,"x":2,"y":0.612},{"s":14,"x":5,"y":0.6},{"s":14,"x":10,"y":0.603},{"s":14,"x":14.3,"y":0.607},
{"s":15,"x":-20,"y":0.24},{"s":15,"x":-16,"y":0.22},{"s":15,"x":-12,"y":0.22},{"s":15,"x":-8,"y":0.218},{"s":15,"x":-5,"y":0.23},{"s":15,"x":-4,"y":0.45},{"s":15,"x":-2.6,"y":0.54},{"s":15,"x":-1.8,"y":0.6},{"s":15,"x":0,"y":0.64},{"s":15,"x":2,"y":0.625},{"s":15,"x":5,"y":0.63},{"s":15,"x":10,"y":0.635},{"s":15,"x":15,"y":0.643},{"s":15,"x":20,"y":0.647}
],
"p6": [
{"s":0,"x":-23.7,"y":0.205},{"s":0,"x":-20,"y":0.205},{"s":0,"x":-16.45,"y":0.355},{"s":0,"x":-13.2,"y":0.219},{"s":0,"x":-10,"y":0.225},{"s":0,"x":-7.4,"y":0.214},{"s":0,"x":-5.3,"y":0.209},{"s":0,"x":-3.5,"y":0.212},{"s":0,"x":-2,"y":0.30},{"s":0,"x":-1,"y":0.52},{"s":0,"x":0.2,"y":0.577},{"s":0,"x":1.4,"y":0.586},{"s":0,"x":4,"y":0.558},{"s":0,"x":5,"y":0.553},{"s":0,"x":8.1,"y":0.577},{"s":0,"x":10.7,"y":0.60},{"s":0,"x":13.3,"y":0.61},{"s":0,"x":16.9,"y":0.621},{"s":0,"x":19,"y":0.629},{"s":0,"x":20.9,"y":0.629},
{"s":1,"x":-23.7,"y":0.203},{"s":1,"x":-10,"y":0.203},{"s":1,"x":0,"y":0.203},{"s":1,"x":2.84,"y":0.203},{"s":1,"x":6.6,"y":0.77},{"s":1,"x":8.7,"y":0.80},{"s":1,"x":10.8,"y":0.806},{"s":1,"x":12.9,"y":0.834},{"s":1,"x":15,"y":0.834},{"s":1,"x":17.1,"y":0.843},{"s":1,"x":19.2,"y":0.843},{"s":1,"x":20.8,"y":0.85},{"s":1,"x":24.7,"y":0.855},
{"s":2,"x":-23.7,"y":0.203},{"s":2,"x":-0.7,"y":0.203},{"s":2,"x":0.86,"y":0.694},{"s":2,"x":2.93,"y":0.77},{"s":2,"x":5.0,"y":0.742},{"s":2,"x":7.1,"y":0.746},{"s":2,"x":9.2,"y":0.76},{"s":2,"x":13.4,"y":0.77},{"s":2,"x":16.5,"y":0.779},{"s":2,"x":20.2,"y":0.784},{"s":2,"x":23.0,"y":0.789},
{"s":3,"x":-23.7,"y":0.203},{"s":3,"x":-10,"y":0.204},{"s":3,"x":-4.5,"y":0.205},{"s":3,"x":-3.5,"y":0.27},{"s":3,"x":-2.8,"y":0.49},{"s":3,"x":-0.7,"y":0.497},{"s":3,"x":1.6,"y":0.525},{"s":3,"x":2.9,"y":0.534},{"s":3,"x":5.0,"y":0.553},{"s":3,"x":8.2,"y":0.586},{"s":3,"x":11.3,"y":0.61},{"s":3,"x":15.5,"y":0.624},{"s":3,"x":18.6,"y":0.638},{"s":3,"x":20.4,"y":0.671},
{"s":4,"x":-23.7,"y":0.205},{"s":4,"x":-15,"y":0.208},{"s":4,"x":-8,"y":0.205},{"s":4,"x":-4,"y":0.21},{"s":4,"x":-3.8,"y":0.3},{"s":4,"x":-2,"y":0.47},{"s":4,"x":0,"y":0.55},{"s":4,"x":1.9,"y":0.61},{"s":4,"x":5.0,"y":0.61},{"s":4,"x":9.2,"y":0.626},{"s":4,"x":13.4,"y":0.638},{"s":4,"x":17,"y":0.654},{"s":4,"x":20.7,"y":0.655},
{"s":5,"x":-23.7,"y":0.205},{"s":5,"x":-20,"y":0.205},{"s":5,"x":-16.6,"y":0.275},{"s":5,"x":-13.7,"y":0.228},{"s":5,"x":-11.1,"y":0.216},{"s":5,"x":-8.5,"y":0.212},{"s":5,"x":-6.5,"y":0.23},{"s":5,"x":-4,"y":0.24},{"s":5,"x":-1,"y":0.242},{"s":5,"x":0,"y":0.245},{"s":5,"x":1,"y":0.40},{"s":5,"x":2,"y":0.48},{"s":5,"x":3,"y":0.525},{"s":5,"x":5.0,"y":0.525},{"s":5,"x":8.2,"y":0.539},{"s":5,"x":11.3,"y":0.548},{"s":5,"x":14.4,"y":0.548},{"s":5,"x":17.5,"y":0.553},{"s":5,"x":20.1,"y":0.557},
{"s":6,"x":-23.7,"y":0.203},{"s":6,"x":0.2,"y":0.205},{"s":6,"x":2.1,"y":0.318},{"s":6,"x":4.2,"y":0.662},{"s":6,"x":6.0,"y":0.737},{"s":6,"x":8.2,"y":0.756},{"s":6,"x":11.3,"y":0.779},{"s":6,"x":13.4,"y":0.79},{"s":6,"x":16,"y":0.798},{"s":6,"x":18.6,"y":0.803},{"s":6,"x":21.2,"y":0.81},{"s":6,"x":24.2,"y":0.81},
{"s":7,"x":-23.7,"y":0.205},{"s":7,"x":-15,"y":0.208},{"s":7,"x":-10,"y":0.21},{"s":7,"x":-5.8,"y":0.205},{"s":7,"x":-5,"y":0.25},{"s":7,"x":-3.6,"y":0.737},{"s":7,"x":-1.5,"y":0.638},{"s":7,"x":0.1,"y":0.612},{"s":7,"x":2.4,"y":0.602},{"s":7,"x":4.5,"y":0.60},{"s":7,"x":8.2,"y":0.605},{"s":7,"x":12.9,"y":0.612},
{"s":8,"x":-23.7,"y":0.203},{"s":8,"x":-15,"y":0.205},{"s":8,"x":-13,"y":0.215},{"s":8,"x":-10,"y":0.222},{"s":8,"x":-7,"y":0.224},{"s":8,"x":-4,"y":0.22},{"s":8,"x":-2,"y":0.218},{"s":8,"x":0,"y":0.225},{"s":8,"x":1,"y":0.35},{"s":8,"x":2.5,"y":0.60},{"s":8,"x":4.0,"y":0.76},{"s":8,"x":6.1,"y":0.768},{"s":8,"x":8.2,"y":0.765},{"s":8,"x":10.3,"y":0.775},{"s":8,"x":12.3,"y":0.793},{"s":8,"x":14.4,"y":0.807},{"s":8,"x":16.5,"y":0.822},{"s":8,"x":19.1,"y":0.828},{"s":8,"x":20.7,"y":0.831},{"s":8,"x":22.2,"y":0.843},{"s":8,"x":24.7,"y":0.856},
{"s":9,"x":-23.7,"y":0.203},{"s":9,"x":-1.4,"y":0.203},{"s":9,"x":0.5,"y":0.35},{"s":9,"x":2.5,"y":0.55},{"s":9,"x":4.4,"y":0.662},{"s":9,"x":6.1,"y":0.662},{"s":9,"x":8.2,"y":0.668},{"s":9,"x":10.3,"y":0.671},{"s":9,"x":12.3,"y":0.699},{"s":9,"x":14.4,"y":0.709},{"s":9,"x":17,"y":0.713},{"s":9,"x":18.6,"y":0.718},{"s":9,"x":20.2,"y":0.727},{"s":9,"x":22.2,"y":0.732},
{"s":10,"x":-23.7,"y":0.203},{"s":10,"x":-4,"y":0.21},{"s":10,"x":-2.5,"y":0.25},{"s":10,"x":-1.5,"y":0.47},{"s":10,"x":0,"y":0.55},{"s":10,"x":0.86,"y":0.577},{"s":10,"x":2.95,"y":0.586},{"s":10,"x":5.6,"y":0.586},{"s":10,"x":9.2,"y":0.59},{"s":10,"x":13.4,"y":0.61},{"s":10,"x":17.6,"y":0.614},{"s":10,"x":20.4,"y":0.619},
{"s":11,"x":-23.7,"y":0.203},{"s":11,"x":-10,"y":0.203},{"s":11,"x":-5.5,"y":0.203},{"s":11,"x":-3.8,"y":0.52},{"s":11,"x":0.08,"y":0.506},{"s":11,"x":1.9,"y":0.501},{"s":11,"x":3.5,"y":0.501},{"s":11,"x":5.0,"y":0.516},{"s":11,"x":7.1,"y":0.539},{"s":11,"x":9.2,"y":0.544},{"s":11,"x":12.3,"y":0.548},{"s":11,"x":16,"y":0.555},{"s":11,"x":18.9,"y":0.555},
{"s":12,"x":-23.7,"y":0.203},{"s":12,"x":-2,"y":0.205},{"s":12,"x":-1.6,"y":0.5},{"s":12,"x":-0.7,"y":0.505},{"s":12,"x":0.5,"y":0.53},{"s":12,"x":1.9,"y":0.532},{"s":12,"x":4.5,"y":0.53},{"s":12,"x":8.2,"y":0.539},{"s":12,"x":10.8,"y":0.544},{"s":12,"x":13.4,"y":0.548},{"s":12,"x":16.5,"y":0.546},
{"s":13,"x":-23.7,"y":0.203},{"s":13,"x":-4.5,"y":0.203},{"s":13,"x":-3.8,"y":0.489},{"s":13,"x":-1.2,"y":0.497},{"s":13,"x":1.9,"y":0.506},{"s":13,"x":5.0,"y":0.511},{"s":13,"x":9.2,"y":0.525},{"s":13,"x":12.3,"y":0.53},{"s":13,"x":15.5,"y":0.527},
{"s":14,"x":-23.7,"y":0.205},{"s":14,"x":-5,"y":0.208},{"s":14,"x":-3.5,"y":0.3},{"s":14,"x":-2.8,"y":0.47},{"s":14,"x":-0.7,"y":0.497},{"s":14,"x":2.9,"y":0.501},{"s":14,"x":6.1,"y":0.516},{"s":14,"x":9.2,"y":0.52},{"s":14,"x":13.4,"y":0.53},
{"s":15,"x":-23.7,"y":0.203},{"s":15,"x":-5.5,"y":0.233},{"s":15,"x":-3,"y":0.235},{"s":15,"x":0,"y":0.24},{"s":15,"x":1.9,"y":0.412},{"s":15,"x":3.5,"y":0.534},{"s":15,"x":4.5,"y":0.534},{"s":15,"x":6.1,"y":0.525},{"s":15,"x":8.2,"y":0.536},{"s":15,"x":10.3,"y":0.558},{"s":15,"x":12.3,"y":0.577},{"s":15,"x":13.9,"y":0.581}
]
},
"spacing": 21,
"resolve": {"scale": {"x": "independent", "y": "independent"}},
"vconcat": [
{"spacing": 15, "resolve": {"scale": {"x": "independent", "y": "independent"}},
 "hconcat": [
 {"title": {"text": "ANN #0", "dx": 15}, "width": 340, "height": 253, "data": {"name": "p1"},
  "resolve": {"axis": {"x": "independent"}},
  "layer": [
   {"mark": {"type": "line", "strokeWidth": 1.5},
    "encoding": {
     "x": {"field": "x", "type": "quantitative", "scale": {"type": "log", "domain": [5.675e-8, 0.02831], "nice": false}, "axis": {"title": "EDR [m2/s3]", "orient": "bottom", "values": [1e-7,1e-6,1e-5,1e-4,1e-3,1e-2], "labelExpr": "datum.value < 3e-7 ? '10⁻⁷' : datum.value < 3e-6 ? '10⁻⁶' : datum.value < 3e-5 ? '10⁻⁵' : datum.value < 3e-4 ? '10⁻⁴' : datum.value < 3e-3 ? '10⁻³' : '10⁻²'"}},
     "y": {"field": "y", "type": "quantitative", "scale": {"domain": [0.167, 0.624], "nice": false, "zero": false}, "axis": {"title": "FRₐₙₙ", "values": [0.2,0.3,0.4,0.5,0.6], "format": ".1f"}},
     "color": {"field": "s", "type": "nominal", "scale": {"scheme": "category10"}, "legend": null}
    }},
   {"mark": {"type": "rule", "opacity": 0},
    "encoding": {"x": {"field": "x", "type": "quantitative", "axis": {"title": null, "orient": "bottom", "labels": false, "tickSize": 2, "values": [6e-8,7e-8,8e-8,9e-8,2e-7,3e-7,4e-7,5e-7,6e-7,7e-7,8e-7,9e-7,2e-6,3e-6,4e-6,5e-6,6e-6,7e-6,8e-6,9e-6,2e-5,3e-5,4e-5,5e-5,6e-5,7e-5,8e-5,9e-5,2e-4,3e-4,4e-4,5e-4,6e-4,7e-4,8e-4,9e-4,2e-3,3e-3,4e-3,5e-3,6e-3,7e-3,8e-3,9e-3,2e-2]}}}}
  ]},
 {"title": {"text": "ANN #1", "dx": 11}, "width": 340, "height": 253, "data": {"name": "p2"},
  "resolve": {"axis": {"x": "independent"}},
  "layer": [
   {"mark": {"type": "line", "strokeWidth": 1.5},
    "encoding": {
     "x": {"field": "x", "type": "quantitative", "scale": {"type": "log", "domain": [5.675e-8, 0.02831], "nice": false}, "axis": {"title": "EDR [m2/s3]", "orient": "bottom", "values": [1e-7,1e-6,1e-5,1e-4,1e-3,1e-2], "labelExpr": "datum.value < 3e-7 ? '10⁻⁷' : datum.value < 3e-6 ? '10⁻⁶' : datum.value < 3e-5 ? '10⁻⁵' : datum.value < 3e-4 ? '10⁻⁴' : datum.value < 3e-3 ? '10⁻³' : '10⁻²'"}},
     "y": {"field": "y", "type": "quantitative", "scale": {"domain": [0.184, 0.731], "nice": false, "zero": false}, "axis": {"title": "FRₐₙₙ", "values": [0.2,0.3,0.4,0.5,0.6,0.7], "format": ".1f"}},
     "color": {"field": "s", "type": "nominal", "scale": {"scheme": "category10"}, "legend": null}
    }},
   {"mark": {"type": "rule", "opacity": 0},
    "encoding": {"x": {"field": "x", "type": "quantitative", "axis": {"title": null, "orient": "bottom", "labels": false, "tickSize": 2, "values": [6e-8,7e-8,8e-8,9e-8,2e-7,3e-7,4e-7,5e-7,6e-7,7e-7,8e-7,9e-7,2e-6,3e-6,4e-6,5e-6,6e-6,7e-6,8e-6,9e-6,2e-5,3e-5,4e-5,5e-5,6e-5,7e-5,8e-5,9e-5,2e-4,3e-4,4e-4,5e-4,6e-4,7e-4,8e-4,9e-4,2e-3,3e-3,4e-3,5e-3,6e-3,7e-3,8e-3,9e-3,2e-2]}}}}
  ]},
 {"title": {"text": "ANN #2", "dx": 4}, "width": 336, "height": 253, "data": {"name": "p3"},
  "resolve": {"axis": {"x": "independent"}},
  "layer": [
   {"mark": {"type": "line", "strokeWidth": 1.5},
    "encoding": {
     "x": {"field": "x", "type": "quantitative", "scale": {"type": "log", "domain": [5.675e-8, 0.0241], "nice": false}, "axis": {"title": "EDR [m2/s3]", "orient": "bottom", "values": [1e-7,1e-6,1e-5,1e-4,1e-3,1e-2], "labelExpr": "datum.value < 3e-7 ? '10⁻⁷' : datum.value < 3e-6 ? '10⁻⁶' : datum.value < 3e-5 ? '10⁻⁵' : datum.value < 3e-4 ? '10⁻⁴' : datum.value < 3e-3 ? '10⁻³' : '10⁻²'"}},
     "y": {"field": "y", "type": "quantitative", "scale": {"domain": [0.181, 0.637], "nice": false, "zero": false}, "axis": {"title": "FRₐₙₙ", "values": [0.2,0.3,0.4,0.5,0.6], "format": ".1f"}},
     "color": {"field": "s", "type": "nominal", "scale": {"scheme": "category10"}, "legend": null}
    }},
   {"mark": {"type": "rule", "opacity": 0},
    "encoding": {"x": {"field": "x", "type": "quantitative", "axis": {"title": null, "orient": "bottom", "labels": false, "tickSize": 2, "values": [6e-8,7e-8,8e-8,9e-8,2e-7,3e-7,4e-7,5e-7,6e-7,7e-7,8e-7,9e-7,2e-6,3e-6,4e-6,5e-6,6e-6,7e-6,8e-6,9e-6,2e-5,3e-5,4e-5,5e-5,6e-5,7e-5,8e-5,9e-5,2e-4,3e-4,4e-4,5e-4,6e-4,7e-4,8e-4,9e-4,2e-3,3e-3,4e-3,5e-3,6e-3,7e-3,8e-3,9e-3,2e-2]}}}}
  ]}
 ]},
{"spacing": 15, "resolve": {"scale": {"x": "independent", "y": "independent"}},
 "hconcat": [
 {"width": 340, "height": 253, "data": {"name": "p4"},
  "mark": {"type": "line", "strokeWidth": 1.5},
  "encoding": {
   "x": {"field": "x", "type": "quantitative", "scale": {"domain": [-41.4, 4.25], "nice": false, "zero": false}, "axis": {"title": "SNR [dB]", "values": [-40,-30,-20,-10,0]}},
   "y": {"field": "y", "type": "quantitative", "scale": {"domain": [0.5221, 0.6659], "nice": false, "zero": false}, "axis": {"title": "FRₐₙₙ", "values": [0.54,0.56,0.58,0.60,0.62,0.64,0.66], "format": ".2f"}},
   "color": {"field": "s", "type": "nominal", "scale": {"scheme": "category10"}, "legend": null}
  }},
 {"width": 340, "height": 253, "data": {"name": "p5"},
  "mark": {"type": "line", "strokeWidth": 1.5},
  "encoding": {
   "x": {"field": "x", "type": "quantitative", "scale": {"domain": [-26.3, 27.5], "nice": false, "zero": false}, "axis": {"title": "SNR [dB]", "values": [-20,-10,0,10,20]}},
   "y": {"field": "y", "type": "quantitative", "scale": {"domain": [0.168, 0.99], "nice": false, "zero": false}, "axis": {"title": "FRₐₙₙ", "values": [0.2,0.3,0.4,0.5,0.6,0.7,0.8,0.9], "format": ".1f"}},
   "color": {"field": "s", "type": "nominal", "scale": {"scheme": "category10"}, "legend": null}
  }},
 {"width": 336, "height": 253, "data": {"name": "p6"},
  "mark": {"type": "line", "strokeWidth": 1.5},
  "encoding": {
   "x": {"field": "x", "type": "quantitative", "scale": {"domain": [-25.9, 26.6], "nice": false, "zero": false}, "axis": {"title": "SNR [dB]", "values": [-20,-10,0,10,20]}},
   "y": {"field": "y", "type": "quantitative", "scale": {"domain": [0.170, 0.887], "nice": false, "zero": false}, "axis": {"title": "FRₐₙₙ", "values": [0.2,0.3,0.4,0.5,0.6,0.7,0.8], "format": ".1f"}},
   "color": {"field": "s", "type": "nominal", "scale": {"scheme": "category10"}, "legend": null}
  }}
 ]}
]
}
